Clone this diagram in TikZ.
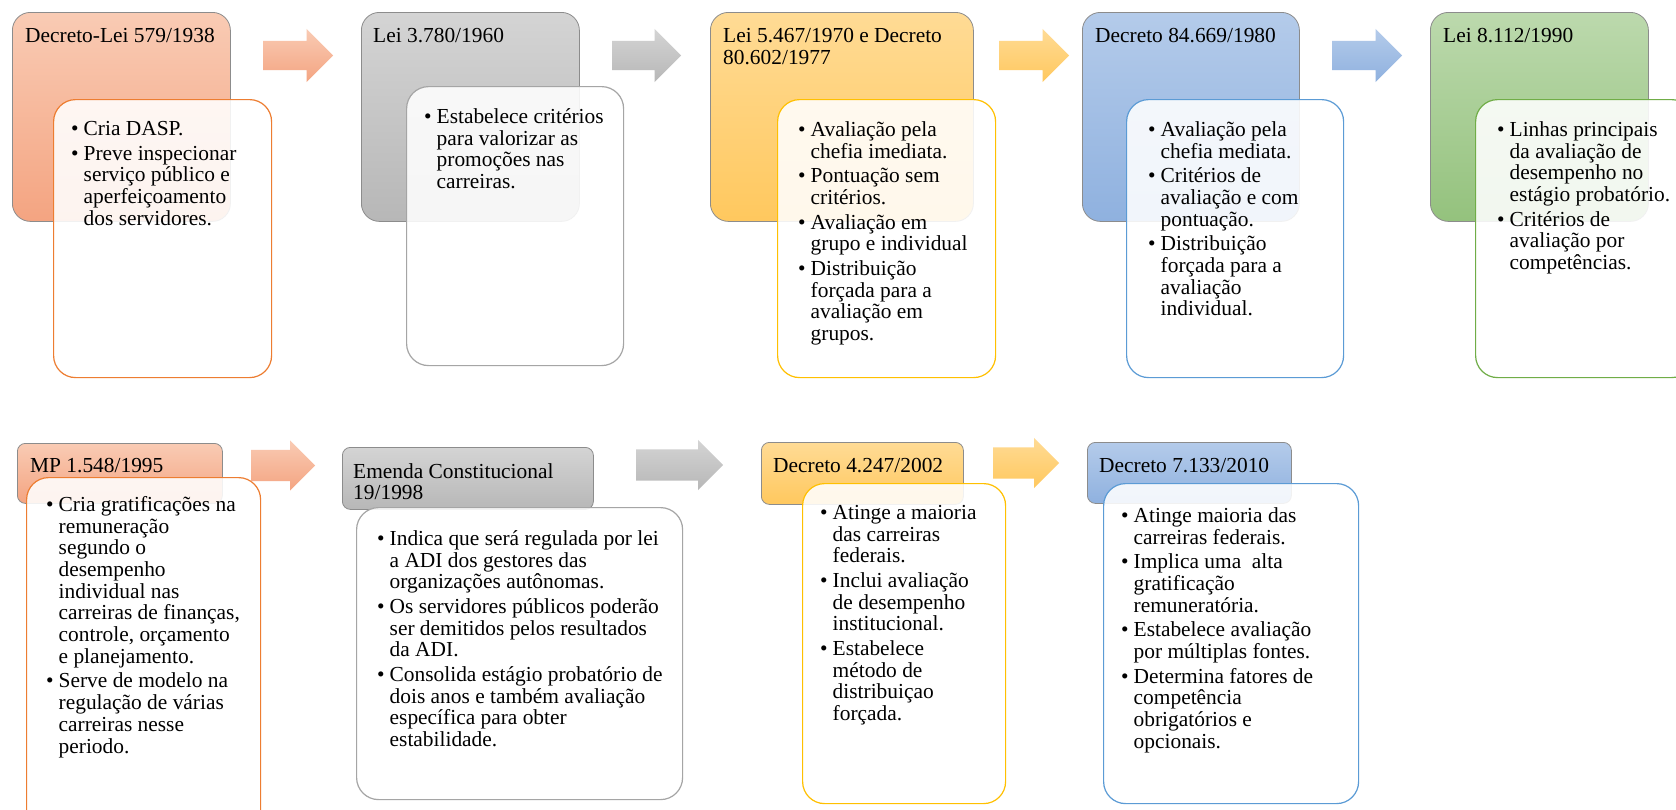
\documentclass[tikz,border=0pt]{standalone}
\usepackage{fontspec}
\setmainfont{Liberation Serif}
\usetikzlibrary{shapes.arrows,positioning}

\definecolor{orgtop}{HTML}{F9CBB4}\definecolor{orgbot}{HTML}{F4A481}\definecolor{orgln}{HTML}{ED7D31}
\definecolor{grytop}{HTML}{D4D4D4}\definecolor{grybot}{HTML}{B7B7B7}\definecolor{gryln}{HTML}{A5A5A5}
\definecolor{gldtop}{HTML}{FFDB95}\definecolor{gldbot}{HTML}{FFC85E}\definecolor{gldln}{HTML}{FFC000}
\definecolor{blutop}{HTML}{B4CBEA}\definecolor{blubot}{HTML}{8FB1DF}\definecolor{bluln}{HTML}{5B9BD5}
\definecolor{grntop}{HTML}{BCD9AD}\definecolor{grnbot}{HTML}{94C27D}\definecolor{grnln}{HTML}{70AD47}

\begin{document}
\begin{tikzpicture}[x=1pt,y=1pt,
  hdr/.style={draw=black!45,line width=0.8pt,rounded corners=18pt,anchor=north west,
    inner sep=0pt,shading=axis,top color=#1top,bottom color=#1bot},
  body/.style={draw=#1ln,line width=1.2pt,fill=white,fill opacity=0.88,
    rounded corners=22pt,anchor=north west,inner sep=0pt},
  ttl/.style={anchor=north west,inner sep=0pt,align=left,font=\fontsize{21.4}{21.7}\selectfont},
  lst/.style={anchor=north west,inner sep=0pt,font=\fontsize{21.4}{21.7}\selectfont},
  blk/.style={single arrow,draw=none,anchor=west,single arrow tip angle=90,
    single arrow head extend=12pt,inner xsep=0pt,inner ysep=14.5pt,
    shading=axis,top color=#1top,bottom color=#1bot},
  blkb/.style={blk=#1,single arrow head extend=9.5pt,inner ysep=15.5pt}]
\useasboundingbox[fill=white] (0,0) rectangle (1676,-809);

% first row
\node[hdr=org,minimum width=218pt,minimum height=209pt] (h1) at (12,-12) {};
\node[ttl] (t1) at ([shift={(13pt,-16pt)}]h1.north west) {Decreto-Lei 579/1938};
\node[body=org,minimum width=218pt,minimum height=278pt] (b1) at (53,-99) {};
\node[lst] (l1) at ([shift={(18pt,-21pt)}]b1.north west) {\begin{tabular}{@{}l@{\hspace{5pt}}l@{}}
\textbullet & Cria DASP.\\[3pt]
\textbullet & Preve inspecionar\\
 & serviço público e\\
 & aperfeiçoamento\\
 & dos servidores.
\end{tabular}};

\node[hdr=gry,minimum width=218pt,minimum height=209pt] (h2) at (361,-12) {};
\node[ttl] (t2) at ([shift={(12pt,-16pt)}]h2.north west) {Lei 3.780/1960};
\node[body=gry,minimum width=217pt,minimum height=279pt] (b2) at (406,-86) {};
\node[lst] (l2) at ([shift={(18pt,-22pt)}]b2.north west) {\begin{tabular}{@{}l@{\hspace{5pt}}l@{}}
\textbullet & Estabelece critérios\\
 & para valorizar as\\
 & promoções nas\\
 & carreiras.
\end{tabular}};

\node[hdr=gld,minimum width=263pt,minimum height=209pt] (h3) at (710,-12) {};
\node[ttl] (t3) at ([shift={(13pt,-16pt)}]h3.north west) {Lei 5.467/1970 e Decreto\\80.602/1977};
\node[body=gld,minimum width=218pt,minimum height=278pt] (b3) at (777,-99) {};
\node[lst] (l3) at ([shift={(21pt,-22pt)}]b3.north west) {\begin{tabular}{@{}l@{\hspace{5pt}}l@{}}
\textbullet & Avaliação pela\\
 & chefia imediata.\\[3pt]
\textbullet & Pontuação sem\\
 & critérios.\\[3pt]
\textbullet & Avaliação em\\
 & grupo e individual\\[3pt]
\textbullet & Distribuição\\
 & forçada para a\\
 & avaliação em\\
 & grupos.
\end{tabular}};

\node[hdr=blu,minimum width=217pt,minimum height=209pt] (h4) at (1082,-12) {};
\node[ttl] (t4) at ([shift={(13pt,-16pt)}]h4.north west) {Decreto 84.669/1980};
\node[body=blu,minimum width=217pt,minimum height=278pt] (b4) at (1126,-99) {};
\node[lst] (l4) at ([shift={(22pt,-22pt)}]b4.north west) {\begin{tabular}{@{}l@{\hspace{5pt}}l@{}}
\textbullet & Avaliação pela\\
 & chefia mediata.\\[3pt]
\textbullet & Critérios de\\
 & avaliação e com\\
 & pontuação.\\[3pt]
\textbullet & Distribuição\\
 & forçada para a\\
 & avaliação\\
 & individual.
\end{tabular}};

\node[hdr=grn,minimum width=218pt,minimum height=209pt] (h5) at (1430,-12) {};
\node[ttl] (t5) at ([shift={(13pt,-16pt)}]h5.north west) {Lei 8.112/1990};
\node[body=grn,minimum width=218pt,minimum height=278pt] (b5) at (1475,-99) {};
\node[lst] (l5) at ([shift={(22pt,-22pt)}]b5.north west) {\begin{tabular}{@{}l@{\hspace{5pt}}l@{}}
\textbullet & Linhas principais\\
 & da avaliação de\\
 & desempenho no\\
 & estágio probatório.\\[3pt]
\textbullet & Critérios de\\
 & avaliação por\\
 & competências.
\end{tabular}};

\node[blk=org,minimum height=70pt] (a1) at (263,-55.5) {};
\node[blk=gry,minimum height=69pt] (a2) at (612,-55.5) {};
\node[blk=gld,minimum height=70pt] (a3) at (999,-55.5) {};
\node[blk=blu,minimum height=70pt] (a4) at (1332,-55.5) {};

% second row
\node[hdr=org,rounded corners=8pt,minimum width=205pt,minimum height=60pt] (h6) at (17,-443) {};
\node[ttl] (t6) at ([shift={(13pt,-15pt)}]h6.north west) {MP 1.548/1995};
\node[body=org,minimum width=234pt,minimum height=360pt] (b6) at (26,-477) {};
\node[lst] (l6) at ([shift={(20pt,-19pt)}]b6.north west) {\begin{tabular}{@{}l@{\hspace{5pt}}l@{}}
\textbullet & Cria gratificações na\\
 & remuneração\\
 & segundo o\\
 & desempenho\\
 & individual nas\\
 & carreiras de finanças,\\
 & controle, orçamento\\
 & e planejamento.\\[3pt]
\textbullet & Serve de modelo na\\
 & regulação de várias\\
 & carreiras nesse\\
 & periodo.
\end{tabular}};

\node[hdr=gry,rounded corners=8pt,minimum width=251pt,minimum height=62pt] (h7) at (342,-447) {};
\node[ttl] (t7) at ([shift={(11pt,-16pt)}]h7.north west) {Emenda Constitucional\\19/1998};
\node[body=gry,minimum width=326pt,minimum height=292pt] (b7) at (356,-507) {};
\node[lst] (l7) at ([shift={(21pt,-23pt)}]b7.north west) {\begin{tabular}{@{}l@{\hspace{5pt}}l@{}}
\textbullet & Indica que será regulada por lei\\
 & a ADI dos gestores das\\
 & organizações autônomas.\\[3pt]
\textbullet & Os servidores públicos poderão\\
 & ser demitidos pelos resultados\\
 & da ADI.\\[3pt]
\textbullet & Consolida estágio probatório de\\
 & dois anos e também avaliação\\
 & específica para obter\\
 & estabilidade.
\end{tabular}};

\node[hdr=gld,rounded corners=8pt,minimum width=202pt,minimum height=62pt] (h8) at (761,-442) {};
\node[ttl] (t8) at ([shift={(12pt,-16pt)}]h8.north west) {Decreto 4.247/2002};
\node[body=gld,minimum width=203pt,minimum height=320pt] (b8) at (802,-483) {};
\node[lst] (l8) at ([shift={(18pt,-21pt)}]b8.north west) {\begin{tabular}{@{}l@{\hspace{5pt}}l@{}}
\textbullet & Atinge a maioria\\
 & das carreiras\\
 & federais.\\[3pt]
\textbullet & Inclui avaliação\\
 & de desempenho\\
 & institucional.\\[3pt]
\textbullet & Estabelece\\
 & método de\\
 & distribuiçao\\
 & forçada.
\end{tabular}};

\node[hdr=blu,rounded corners=8pt,minimum width=204pt,minimum height=61pt] (h9) at (1087,-442) {};
\node[ttl] (t9) at ([shift={(12pt,-16pt)}]h9.north west) {Decreto 7.133/2010};
\node[body=blu,minimum width=255pt,minimum height=320pt] (b9) at (1103,-483) {};
\node[lst] (l9) at ([shift={(18pt,-24pt)}]b9.north west) {\begin{tabular}{@{}l@{\hspace{5pt}}l@{}}
\textbullet & Atinge maioria das\\
 & carreiras federais.\\[3pt]
\textbullet & Implica uma\ \ alta\\
 & gratificação\\
 & remuneratória.\\[3pt]
\textbullet & Estabelece avaliação\\
 & por múltiplas fontes.\\[3pt]
\textbullet & Determina fatores de\\
 & competência\\
 & obrigatórios e\\
 & opcionais.
\end{tabular}};

\node[blkb=org,minimum height=64pt] (a5) at (251,-465.5) {};
\node[blkb=gry,minimum height=87pt] (a6) at (636,-465) {};
\node[blkb=gld,minimum height=66pt] (a7) at (993,-463) {};
\end{tikzpicture}
\end{document}
